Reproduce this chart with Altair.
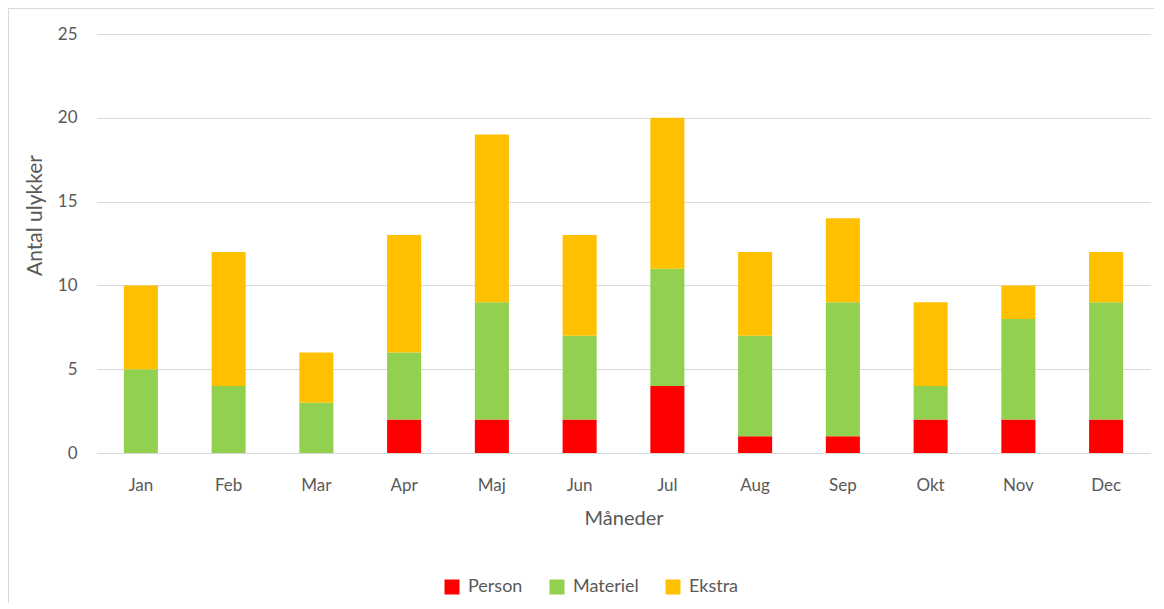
import altair as alt
import pandas as pd

months = ["Jan", "Feb", "Mar", "Apr", "Maj", "Jun", "Jul", "Aug", "Sep", "Okt", "Nov", "Dec"]
person = [0, 0, 0, 2, 2, 2, 4, 1, 1, 2, 2, 2]
materiel = [5, 4, 3, 4, 7, 5, 7, 6, 8, 2, 6, 7]
ekstra = [5, 8, 3, 7, 10, 6, 9, 5, 5, 5, 2, 3]
series = ["Person", "Materiel", "Ekstra"]
colors = ["#FF0000", "#92D050", "#FFC000"]

rows = []
for i, m in enumerate(months):
    for k, (name, vals) in enumerate(zip(series, [person, materiel, ekstra])):
        rows.append({"Måned": m, "Type": name, "Antal": vals[i], "ord": k})
df = pd.DataFrame(rows)

FONT = "Lato"
GRAY = "#595959"

bars = alt.Chart(df).mark_bar().encode(
    x=alt.X("Måned:N", sort=months,
            scale=alt.Scale(paddingInner=0.612, paddingOuter=0.306),
            axis=alt.Axis(title="Måneder", labelAngle=0, ticks=False, domain=True,
                          domainColor="#d9d9d9", labelPadding=24, titlePadding=15)),
    y=alt.Y("sum(Antal):Q", scale=alt.Scale(domain=[0, 25]),
            axis=alt.Axis(title="Antal ulykker", values=[0, 5, 10, 15, 20, 25],
                          ticks=False, domain=False, labelPadding=20, titlePadding=12,
                          titleY=181, gridColor="#d9d9d9")),
    color=alt.Color("Type:N", scale=alt.Scale(domain=series, range=colors),
                    legend=alt.Legend(title=None, orient="none", direction="horizontal",
                                      legendX=346, legendY=544, symbolType="square",
                                      symbolSize=225, symbolStrokeWidth=0,
                                      columnPadding=25, labelOffset=7)),
    order=alt.Order("ord:Q"),
)

frame = alt.Chart(df).mark_rect(fill=None, stroke="#d9d9d9", strokeWidth=1.5, clip=False).encode(
    x=alt.value(-89), x2=alt.value(1120), y=alt.value(-26), y2=alt.value(640)
)

chart = alt.layer(frame, bars).properties(
    width=1053, height=419,
    padding={"left": 89, "top": 26, "right": 4, "bottom": 150},
    autosize=alt.AutoSizeParams(type="none"),
).configure_view(stroke=None).configure_axis(
    labelFont=FONT, titleFont=FONT, labelColor=GRAY, titleColor=GRAY,
    labelFontSize=17, titleFontSize=20, titleFontWeight="normal", grid=True,
).configure_axisY(titleFontSize=21).configure_axisX(grid=False).configure_legend(
    labelFont=FONT, labelFontSize=18, labelColor=GRAY
)

chart.save("out.html", embed_options={"renderer": "svg", "actions": False})
